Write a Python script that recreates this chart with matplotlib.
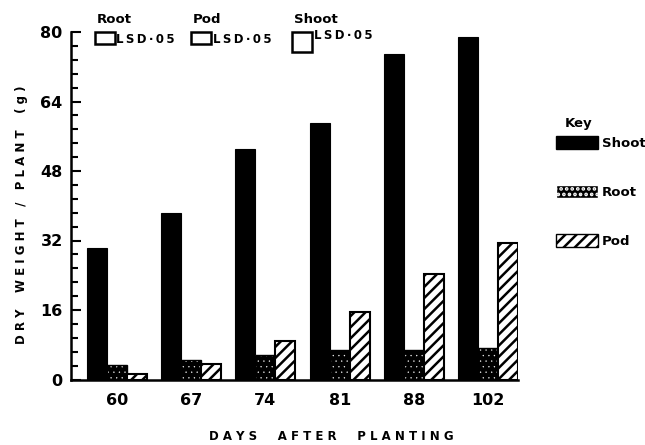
import matplotlib
matplotlib.use("Agg")
import matplotlib.pyplot as plt
from matplotlib.patches import Patch, Rectangle
import numpy as np

days = ["60", "67", "74", "81", "88", "102"]
shoot = [30.2, 38.4, 53.0, 59.0, 74.9, 78.8]
root = [3.3, 4.5, 5.6, 6.8, 6.8, 7.2]
pod = [1.3, 3.5, 8.9, 15.6, 24.3, 31.5]
lsd_names = ["Root", "Pod", "Shoot"]
lsd_values = [2.8, 2.8, 4.6]
yticks = [0, 16, 32, 48, 64, 80]

plt.rcParams['hatch.linewidth'] = 1.8
plt.rcParams['font.family'] = ['DejaVu Sans']
plt.rcParams['font.weight'] = 'bold'

fig = plt.figure(figsize=(6.45, 4.45), dpi=100)
ax = fig.add_axes([71/645, 1 - 379.5/445, (518-71)/645, (379.5-32)/445])

x = np.arange(len(days))
w = 0.27
ax.bar(x - w, shoot, w, color='black', edgecolor='black', linewidth=0.8)
with plt.rc_context({'hatch.linewidth': 0.2}):
    rb = ax.bar(x, root, w, color='black', edgecolor='white', hatch='...', linewidth=0)
    root_handle = Patch(facecolor='black', edgecolor='white', hatch='...', label='Root')
for p in list(rb) + [root_handle]:
    if hasattr(p, 'set_hatch_linewidth'):
        p.set_hatch_linewidth(0.2)
ax.bar(x, root, w, fill=False, edgecolor='black', linewidth=1.0)
ax.bar(x + w, pod, w, color='white', edgecolor='black', hatch='///', linewidth=1.5)

ax.set_xlim(-0.615, 5.4)
ax.set_ylim(0, 80)
ax.set_yticks(yticks)
ax.set_yticks(np.arange(0, 80.1, 3.2), minor=True)
ax.set_xticks(x)
ax.set_xticklabels(days, fontsize=11.5, fontweight='bold')
ax.set_yticklabels([str(v) for v in yticks], fontsize=11.5, fontweight='bold')
ax.tick_params(axis='y', which='major', direction='in', length=7, width=1.5, pad=6)
ax.tick_params(axis='y', which='minor', direction='in', length=5, width=1.5)
ax.tick_params(axis='x', length=0, pad=10)
for s in ['top', 'right']:
    ax.spines[s].set_visible(False)
for s in ['left', 'bottom']:
    ax.spines[s].set_linewidth(1.8)

# LSD boxes above the plot
ts = "\u2009"
lsd_label = ts.join("LSD·05")
lsd_x = [-0.295, 1.005, 2.36]
for nm, val, lx in zip(lsd_names, lsd_values, lsd_x):
    ax.add_patch(Rectangle((lx, 80 - val), 0.27, val, fill=False,
                           edgecolor='black', linewidth=1.8, clip_on=False))
    ax.text(lx + 0.02, 81.4, nm, ha='left', va='bottom', fontsize=9.5,
            fontweight='bold', clip_on=False)
    ax.text(lx + 0.29, 79.8 if nm != "Shoot" else 80.6, lsd_label, ha='left',
            va='top', fontsize=8.5, fontweight='bold', clip_on=False)

handles = [Patch(facecolor='black', edgecolor='black', label='Shoot'),
           root_handle,
           Patch(facecolor='white', edgecolor='black', hatch='///', label='Pod')]
fig.text(565/645, 1 - 123/445, "Key", ha='left', va='center', fontsize=9.5, fontweight='bold')
leg = fig.legend(handles=handles, loc='upper left', bbox_to_anchor=(556/645, 1 - 136/445),
                 frameon=False, handlelength=3.2,
                 handleheight=1.15, labelspacing=2.65, handletextpad=0.3,
                 borderpad=0, borderaxespad=0,
                 prop={'weight': 'bold', 'size': 9.5})

fig.text(22/645, 1 - 215/445, "D R Y    W E I G H T   /   P L A N T    ( g )",
         rotation=90, ha='center', va='center', fontsize=8.5, fontweight='bold')
fig.text(331/645, 1 - 437/445, "D A Y S     A F T E R     P L A N T I N G",
         ha='center', va='center', fontsize=8.5, fontweight='bold')

fig.savefig("out.png", dpi=100)
